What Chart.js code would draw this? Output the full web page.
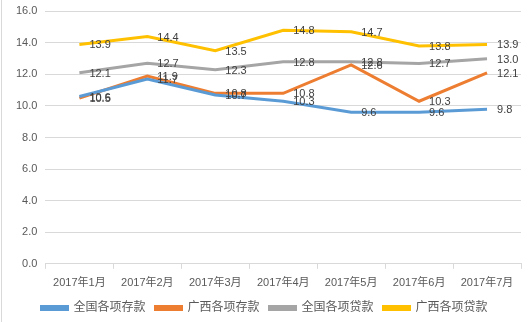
<!DOCTYPE html>
<html>
<head>
<meta charset="utf-8">
<script src="https://cdn.jsdelivr.net/npm/chart.js@4"></script>
<style>
  html, body { margin: 0; padding: 0; background: #fff; }
  #wrap { width: 530px; height: 322px; position: relative; }
</style>
</head>
<body>
<div id="wrap"><canvas id="chart" width="530" height="322"></canvas></div>
<script>
const months = ['2017年1月', '2017年2月', '2017年3月', '2017年4月', '2017年5月', '2017年6月', '2017年7月'];
const nationalDeposits = [10.6, 11.7, 10.7, 10.3, 9.6, 9.6, 9.8];
const guangxiDeposits = [10.5, 11.9, 10.8, 10.8, 12.6, 10.3, 12.1];
const nationalLoans = [12.1, 12.7, 12.3, 12.8, 12.8, 12.7, 13.0];
const guangxiLoans = [13.9, 14.4, 13.5, 14.8, 14.7, 13.8, 13.9];

const fontFamily = '"Liberation Sans", "Noto Sans CJK SC", sans-serif';

function series(label, data, color) {
    return {
        label: label,
        data: data,
        borderColor: color,
        backgroundColor: color,
        borderWidth: 3,
        pointRadius: 0,
        tension: 0,
        fill: false
    };
}

// draws value labels to the right of each point, like Excel's "right" position
const valueLabels = {
    id: 'valueLabels',
    afterDatasetsDraw(chart) {
        const ctx = chart.ctx;
        ctx.save();
        ctx.font = '11px ' + fontFamily;
        ctx.fillStyle = '#404040';
        ctx.textAlign = 'left';
        ctx.textBaseline = 'middle';
        chart.data.datasets.forEach((ds, i) => {
            chart.getDatasetMeta(i).data.forEach((pt, j) => {
                ctx.fillText(ds.data[j].toFixed(1), pt.x + 10, pt.y + 1);
            });
        });
        ctx.restore();
    }
};

// pulls the legend up a little so it sits closer to the axis labels
const legendNudge = {
    id: 'legendNudge',
    afterLayout(chart) {
        if (chart.legend) {
            chart.legend.top -= 6;
            chart.legend.bottom -= 6;
        }
    }
};

const frameLine = {
    id: 'frameLine',
    beforeDraw(chart) {
        const ctx = chart.ctx;
        ctx.save();
        ctx.strokeStyle = '#d9d9d9';
        ctx.lineWidth = 1;
        ctx.beginPath();
        ctx.moveTo(1.5, 0);
        ctx.lineTo(1.5, chart.height);
        ctx.stroke();
        ctx.restore();
    }
};

new Chart(document.getElementById('chart'), {
    type: 'line',
    data: {
        labels: months,
        datasets: [
            series('全国各项存款', nationalDeposits, '#5B9BD5'),
            series('广西各项存款', guangxiDeposits, '#ED7D31'),
            series('全国各项贷款', nationalLoans, '#A5A5A5'),
            series('广西各项贷款', guangxiLoans, '#FFC000')
        ]
    },
    options: {
        responsive: false,
        animation: false,
        layout: { padding: { left: 8, right: 9, top: 0, bottom: -8 } },
        plugins: {
            legend: {
                position: 'bottom',
                labels: {
                    boxWidth: 26,
                    boxHeight: 3,
                    padding: 10,
                    color: '#595959',
                    font: { size: 12, family: fontFamily }
                }
            },
            tooltip: { enabled: false }
        },
        scales: {
            x: {
                offset: true,
                grid: {
                    offset: true,
                    drawOnChartArea: false,
                    tickLength: 5,
                    color: '#d9d9d9'
                },
                border: { color: '#d9d9d9' },
                ticks: {
                    color: '#595959',
                    padding: 8,
                    maxRotation: 0,
                    font: { size: 11, family: fontFamily }
                }
            },
            y: {
                min: 0,
                max: 16,
                ticks: {
                    stepSize: 2,
                    color: '#595959',
                    padding: 8,
                    font: { size: 11, family: fontFamily, lineHeight: 0.6 },
                    callback: v => v.toFixed(1)
                },
                grid: { color: '#d9d9d9', drawTicks: false },
                border: { display: false }
            }
        }
    },
    plugins: [valueLabels, legendNudge, frameLine]
});
</script>
</body>
</html>
